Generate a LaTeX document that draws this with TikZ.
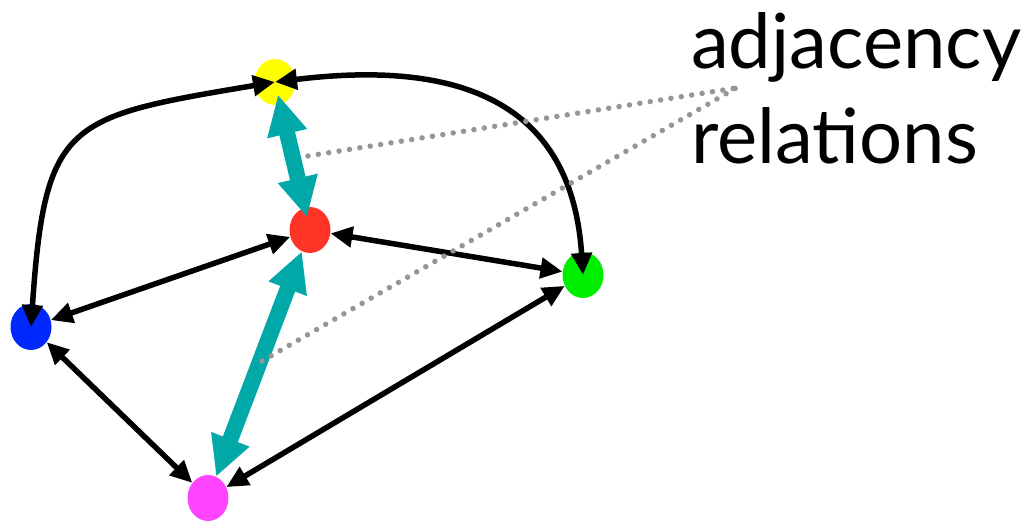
\documentclass[tikz,border=0pt]{standalone}
\usepackage{fontspec}
\setmainfont{Lato}
\usetikzlibrary{arrows.meta,shapes.geometric,positioning}

\definecolor{vyellow}{RGB}{255,255,0}
\definecolor{vred}{RGB}{255,52,38}
\definecolor{vgreen}{RGB}{0,238,0}
\definecolor{vblue}{RGB}{0,40,255}
\definecolor{vmagenta}{RGB}{255,68,255}
\definecolor{adjcyan}{RGB}{0,168,168}
\definecolor{dotgray}{RGB}{150,150,150}

\tikzset{
  vertex/.style={ellipse, inner sep=0pt, minimum width=41pt, minimum height=46pt},
  link/.style={black, line width=5.5pt, {Triangle[length=22pt,width=20pt]}-{Triangle[length=22pt,width=20pt]}},
  adj/.style={adjcyan, line width=16pt, {Triangle[length=40pt,width=38pt]}-{Triangle[length=40pt,width=38pt]}},
  pointer/.style={dotgray, line width=5.5pt, line cap=round, dash pattern=on 0pt off 10.5pt},
  caption/.style={font=\fontsize{76}{90}\selectfont, inner sep=0pt}
}

\begin{document}
\begin{tikzpicture}[x=1pt, y=-1pt]
\useasboundingbox (0,0) rectangle (1030,522);

% vertices
\node[vertex, fill=vyellow] (yellow) at (275,82) {};
\node[vertex, fill=vred] (red) at (310,230) {};
\node[vertex, fill=vgreen] (green) at (583,275) {};
\node[vertex, fill=vblue] (blue) at (31,327) {};
\node[vertex, fill=vmagenta] (magenta) at (208,498) {};

% edges
\draw[link] (red) -- (blue);
\draw[link] (red) -- (green);
\draw[link] (green) -- (magenta);
\draw[link] (blue) -- (magenta);

% the two curved ones end at the centres
\draw[link] (blue.center) .. controls (45,120) and (67,117) .. (yellow.center);
\draw[link] (yellow.center) .. controls (488,56) and (573,123) .. (green.center);

% adjacency relations (thick)
\draw[adj, shorten <=-10pt, shorten >=-10pt] (yellow) -- (red);
\draw[adj] (red) -- (magenta);

% label
\node[caption, anchor=base west] (adjtext) at (691,68) {adjacency};
\node[caption, anchor=base west] (reltext) at ([yshift=-95pt]adjtext.base west) {relations};

\coordinate (hub) at (736,88);
\coordinate (upper) at (308,156);
\coordinate (lower) at (262,361);
\draw[pointer] (upper) -- (hub);
\draw[pointer] (lower) -- (hub);

\end{tikzpicture}
\end{document}
